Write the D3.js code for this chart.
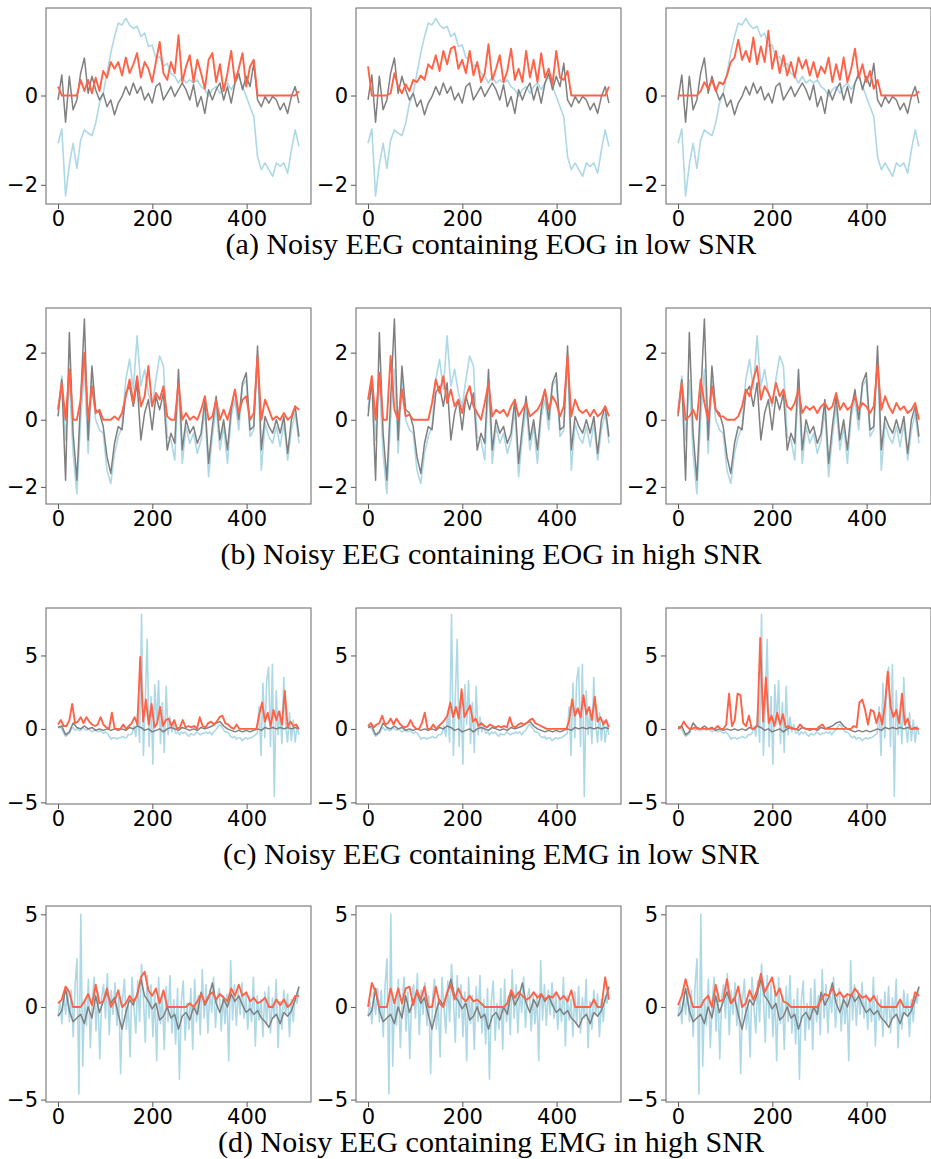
<!DOCTYPE html>
<html>
<head>
<meta charset="utf-8">
<script src="https://cdn.jsdelivr.net/npm/d3@7"></script>
<style>
  body { margin: 0; background: #fff; }
</style>
</head>
<body>
<svg id="chart" width="931" height="1159"></svg>
<script>
'use strict';
// captions under each row of panels
const captions = [
  "(a) Noisy EEG containing EOG in low SNR",
  "(b) Noisy EEG containing EOG in high SNR",
  "(c) Noisy EEG containing EMG in low SNR",
  "(d) Noisy EEG containing EMG in high SNR"
];
const xTicks = [0, 200, 400];
const yTicksA = [-2, 0];
const yTicksB = [-2, 0, 2];
const yTicksC = [-5, 0, 5];
const yTicksD = [-5, 0, 5];

// row (a): noisy input (light blue), clean EEG (gray), three denoised outputs (red)
const blueA = [-1.07,-0.75,-2.25,-1.55,-1.07,-1.63,-1.0,-0.77,-0.84,-0.9,
  -0.62,-0.17,0.05,0.5,0.95,1.32,1.62,1.58,1.73,1.58,
  1.5,1.55,1.32,1.4,1.1,1.13,0.84,0.87,0.65,0.72,
  0.5,0.43,0.28,0.43,0.28,0.35,0.28,0.35,0.2,0.13,
  -0.02,0.13,0.2,0.05,0.2,0.28,0.13,0.28,0.43,0.2,
  -0.02,-0.25,-0.47,-1.37,-1.66,-1.51,-1.66,-1.81,-1.51,-1.59,
  -1.51,-1.74,-1.22,-0.77,-1.14];
const grayA = [-0.1,0.46,-0.6,0.43,-0.32,-0.1,0.5,0.84,0.05,0.43,
  0.13,-0.1,0.05,-0.25,-0.1,-0.43,-0.17,-0.02,0.2,0.01,
  0.28,0.05,0.2,-0.1,0.05,-0.17,0.2,0.28,-0.1,0.05,
  0.2,-0.02,0.13,0.28,0.13,-0.1,0.24,-0.25,-0.02,-0.4,
  0.13,-0.1,0.13,0.28,-0.1,0.2,-0.17,0.28,0.5,0.13,
  0.43,0.2,0.72,-0.1,-0.25,-0.02,-0.17,-0.02,-0.1,-0.32,
  -0.17,-0.4,-0.02,0.2,-0.17];
const orangeA1 = [0.2,0,0,0,0,0,0.35,0.1,0.35,0.05,
  0.4,0.1,0.55,0.4,0.75,0.6,0.75,0.45,0.85,0.5,
  0.7,0.95,0.4,0.75,0.6,0.3,0.75,1.2,0.5,0.35,
  0.75,0.5,1.35,0.3,0.65,0.9,0.3,0.8,0.5,0.15,
  0.8,0.95,0.3,0.7,0.1,0.5,1.0,0.3,0.6,0.95,
  0.2,0.65,0.8,0,0,0,0,0,0,0,
  0,0,0,0,0.1];
const orangeA2 = [0.65,0,0,0,0,0,0.05,0.5,0.2,0.05,
  0.25,0.1,0.35,0.3,0.45,0.35,0.7,0.6,0.9,0.55,
  1.0,0.7,1.05,1.1,0.6,0.8,0.5,1.0,0.45,0.75,
  0.3,0.5,1.15,0.35,0.6,0.9,0.3,0.55,1.05,0.35,
  0.6,0.3,1.0,0.4,0.8,0.3,0.95,0.4,0.6,0.25,
  1.0,0.4,0.35,0.55,0,0,0,0,0,0,
  0,0,0,0,0.2];
const orangeA3 = [0,0,0,0,0,0,0.1,0.3,0.15,0.35,
  0.1,0.3,0.25,0.45,0.75,0.85,1.25,0.8,1.0,0.75,
  1.3,0.7,1.1,0.75,1.45,0.6,1.0,0.5,0.9,0.45,
  0.75,0.4,0.85,0.6,0.8,0.45,0.75,0.4,0.65,0.5,
  0.85,0.3,0.7,0.35,0.85,0.3,0.6,1.05,0.4,0.7,
  0.3,0.55,0.15,0.35,0,0,0,0,0,0,
  0,0,0,0,0.1];

// row (b)
const blueB = [0.3,1.3,-0.6,1.2,-1.0,-2.2,0.0,1.5,-1.0,1.2,
  0.0,-0.3,-0.4,-1.5,-1.9,-1.0,-0.5,-0.2,1.2,1.8,
  0.9,2.5,1.0,1.5,0.8,0.4,1.2,1.9,1.6,-0.5,
  -0.6,-1.2,1.1,-1.3,-0.2,-0.7,-0.4,-1.0,-0.6,0.3,
  -1.7,-0.5,0.4,-0.9,-0.2,-1.3,0.1,0.6,-0.3,1.0,
  1.2,-0.5,-0.3,1.9,-1.5,-0.1,-0.5,-0.7,-0.2,-0.8,
  -0.1,-1.2,-0.3,0.2,-0.7];
const grayB = [0.1,1.2,-1.8,2.6,-0.4,-1.8,0.6,3.0,-0.6,1.6,
  0.3,0.2,-0.2,-1.1,-1.6,-0.7,-0.2,-0.3,0.8,1.0,
  0.4,1.1,-0.6,0.2,0.6,-0.3,0.7,0.3,0.8,-0.9,
  -0.4,-0.7,1.5,-0.9,0.0,-0.4,-0.2,-0.7,-0.4,0.6,
  -1.3,-0.2,0.7,-0.6,0.0,-0.9,0.3,0.9,0.0,1.1,
  1.4,-0.3,-0.2,2.2,-0.9,0.1,-0.2,-0.4,0.0,-0.4,
  0.1,-1.0,0.0,0.4,-0.5];
const orangeB1 = [0.3,1.1,0,1.5,0,0,0.6,2.0,0,1.0,
  0.2,0.3,0,0,0,0.1,0,0.2,0.7,1.2,
  0.5,1.3,0.4,0.7,1.6,0.4,0.8,0.6,1.0,0.1,
  0,0,1.1,0,0.2,0,0.1,0,0.3,0.7,
  0,0.1,0.6,0,0.3,0,0.4,0.9,0.2,0.6,
  0.7,0,0.2,1.9,0,0.6,0.3,0,0.1,0,
  0.2,0,0.1,0.4,0.3];
const orangeB2 = [0.6,1.3,0,1.4,0,0,1.9,0.3,0,0.9,
  0.1,0.15,0,0,0,0,0,0.5,1.2,0.8,
  1.3,0.5,0.9,0.4,0.6,0.2,0.7,1.0,0.4,0.2,
  0,0.5,1.1,0.1,0.3,0.2,0.3,0.1,0.4,0.6,
  0.1,0.3,0.5,0.1,0.2,0.3,0.5,0.9,0.3,0.7,
  0.5,0.1,0.4,1.9,0.1,0.6,0.3,0.2,0.3,0.1,
  0.3,0.1,0.2,0.4,0.1];
const orangeB3 = [0.2,1.1,0,0.1,0.3,0,1.2,0.5,0,1.0,
  0.3,0.1,0.1,0,0,0,0.1,0.4,0.9,0.7,
  1.2,1.6,0.6,1.0,0.8,0.5,1.1,0.7,0.9,0.4,
  0.3,0.5,0.9,0.2,0.4,0.3,0.4,0.2,0.4,0.5,
  0.3,0.4,0.8,0.3,0.5,0.3,0.4,0.7,0.3,0.5,
  0.4,0.2,0.4,1.65,0.3,0.7,0.4,0.2,0.5,0.3,
  0.4,0.2,0.3,0.5,0];

// row (c)
const blueC = [0.1,0.1,0.0,-0.3,-0.5,-0.4,-0.3,0.0,0.1,-0.1,
  0.0,-0.1,-0.1,0.1,0.0,-0.1,0.0,-0.1,-0.2,-0.1,
  -0.1,-0.2,-0.1,-0.2,-0.3,-0.2,-0.3,-0.5,-0.7,-0.6,
  -0.6,-0.7,-0.6,-0.6,-0.5,-0.6,-0.6,-0.4,-0.4,-0.3,
  0.2,-0.5,1.2,-0.9,7.8,-1.8,2.1,6.1,-1.2,2.2,
  -2.4,3.0,0.3,3.3,-1.0,1.8,-1.6,2.9,-0.4,0.8,
  -0.2,0.3,-0.3,-0.2,-0.4,-0.2,-0.3,-0.2,-0.4,-0.5,
  -0.3,-0.4,-0.4,-0.2,-0.3,-0.4,-0.3,-0.3,-0.2,-0.3,
  -0.2,-0.4,-0.2,-0.1,0.1,0.3,0.2,0.0,-0.2,-0.2,
  -0.3,-0.5,-0.6,-0.5,-0.7,-0.6,-0.6,-0.8,-0.7,-0.6,
  -0.7,-0.6,-0.6,-0.5,-0.4,-0.3,1.5,-1.8,3.1,-0.6,
  3.3,4.2,-1.2,4.4,-4.6,2.6,-0.4,1.2,-1.0,3.5,
  0.2,-0.9,1.1,-0.8,0.6,-0.9,0.2,-0.4];
const grayC = [0.1,0.2,-0.4,-0.2,0.4,0.1,0.0,0.2,0.0,0.1,
  -0.1,0.0,-0.1,0.0,-0.1,0.0,-0.1,0.0,-0.1,0.1,
  0.0,0.2,0.1,-0.1,0.0,-0.2,-0.1,0.0,-0.2,0.0,
  0.1,0.0,-0.1,0.1,0.0,-0.1,0.0,-0.1,0.1,0.0,
  0.1,0.2,0.4,0.5,0.2,0.0,-0.1,-0.2,-0.1,-0.2,
  -0.1,-0.2,-0.1,0.0,-0.1,0.1,0.0,0.1,0.0,0.1,
  0.0,0.1,0.0,0.1,0.0];
const orangeC1 = [0.3,0.6,0.2,0.2,0.6,1.7,0.4,0.5,0.8,0.4,
  0.8,0.5,0.3,0.2,0.3,0.8,0.3,0.1,0.0,1.1,
  0.0,0.0,0.0,0.3,0.0,0.2,0.4,0.8,0.3,4.9,
  0.5,2.0,0.3,1.7,0.1,0.4,1.5,0.2,0.6,0.7,
  0.2,0.6,0.0,0.1,0.6,0.1,0.2,0.1,0.2,0.0,
  0.8,0.2,0.1,0.4,0.5,0.3,0.5,0.8,0.9,0.4,
  0.3,0.1,0.0,0.3,0.0,0,0,0,0,0,
  0,1.0,1.8,0.5,1.1,0.2,1.3,0.6,1.2,0.3,
  2.6,0.1,0.5,0.2,0.3,0.0];
const orangeC2 = [0.2,0.4,0.1,0.3,0.4,0.9,0.3,0.4,0.7,0.3,
  0.7,0.4,0.2,0.1,0.2,0.6,0.2,0.0,0.0,0.4,
  1.1,0.0,0.0,0.3,0.0,0.2,0.4,0.6,0.9,1.8,
  0.8,1.5,0.7,2.7,0.8,1.2,1.6,0.5,0.7,0.2,
  0.4,0.2,0.1,0.3,0.2,0.1,0.2,0.1,0.2,0.1,
  0.8,0.2,0.1,0.3,0.4,0.3,0.4,0.6,0.7,0.4,
  0.3,0.2,0.1,0.0,0,0,0,0,0,0,
  0,0.6,2.0,0.9,1.4,0.8,2.3,1.0,1.5,0.6,
  2.2,0.5,0.8,0.3,0.6,0.1];
const orangeC3 = [0.0,0.1,0.5,0.2,0.0,0.0,0.1,0.0,0.0,0.0,
  0.0,0.0,0.0,0.0,0.2,0.0,0.0,0.3,2.4,0.2,
  0.6,2.4,2.3,0.4,0.2,0.9,0.0,0.0,0.3,6.2,
  0.5,3.5,0.4,0.9,0.2,1.1,0.3,1.0,0.1,0.2,
  0.0,0.0,0.0,0.3,0.1,0.0,0.0,0.0,0.0,0.0,
  0.2,0.3,0.0,0.0,0.0,0.0,0.0,0.0,0.0,0.0,
  0.0,0.0,0.2,0.1,1.8,2.0,1.3,0.3,1.3,1.2,
  0.4,1.1,0.3,1.6,3.9,1.5,0.8,1.3,0.4,2.4,
  0.3,0.7,0.0,0.0,0.0,0.0];

// row (d)
const blueD = [-0.5,0.3,-0.9,0.8,-0.4,1.0,-0.8,0.9,-1.6,1.2,
  2.6,-4.7,5.0,-3.2,0.4,-1.0,1.5,-2.2,0.2,1.6,
  -1.3,0.8,-2.8,0.5,1.2,-0.6,1.8,-1.5,0.9,-0.4,
  1.3,-1.0,0.6,-3.6,0.4,1.5,-1.2,0.3,-2.7,1.6,
  0.0,-1.4,1.4,-0.8,2.3,0.5,-1.9,1.7,-0.6,1.2,
  -1.6,0.8,-2.9,1.6,-0.9,0.6,-2.3,1.1,-0.8,1.7,
  -1.4,0.4,-2.0,1.0,-3.9,0.3,1.4,-1.8,0.2,-1.2,
  1.0,-2.3,1.5,-0.8,0.6,-1.5,2.0,-0.6,1.2,-1.4,
  0.9,-0.3,1.6,-1.1,0.5,1.0,-1.3,0.6,-0.9,0.7,
  -2.9,2.5,-0.7,1.2,-1.0,0.9,-0.4,1.3,-0.6,0.7,
  -1.2,0.5,-0.8,1.6,-2.1,0.6,-0.7,0.4,-1.6,0.8,
  -0.9,1.1,-1.4,0.5,-0.6,1.5,-2.2,0.3,-1.2,0.9,
  -0.4,0.7,-1.6,0.4,-0.8,0.6,0.2,1.1];
const grayD = [-0.5,-0.2,1.0,-0.2,-0.8,-0.6,-0.4,-0.9,0.0,-0.6,
  0.6,-0.3,0.3,0.8,0.2,0.5,-0.4,-1.2,-0.3,0.4,
  0.1,0.7,1.5,0.6,0.3,-0.1,0.2,-0.7,-0.5,0.0,
  -0.6,-0.4,-1.2,-0.5,-0.3,-0.7,0.0,-0.4,0.8,0.1,
  0.5,1.3,0.2,-0.3,0.4,0.0,0.7,0.3,0.6,0.1,
  -0.3,-0.1,-0.4,-0.2,-0.6,-0.8,-1.1,-0.6,-0.4,-0.9,
  -0.3,-0.5,-0.2,0.4,1.1];
const orangeD1 = [0.2,0.4,1.1,0.8,0,0,0,0.3,0.7,0.1,
  1.2,0.2,0.3,1.0,0,0.3,0.9,0,0.2,0.6,
  0.3,0.6,1.6,1.9,0.9,0.6,1.0,0.2,0.9,0,
  0,0,0,0,0,0.2,0,0.3,0.7,0.2,
  0.6,0.8,0.4,0.7,0.5,0.3,1.0,0.6,1.2,0.6,
  0.8,0.3,0.5,0.2,0.3,0.5,0,0,0.4,0.1,
  0.4,0,0.2,0.6,0.6];
const orangeD2 = [0,1.3,0.8,0,0,0,1.0,0.2,1.0,0.2,
  1.0,1.1,0.1,0.9,0.4,1.1,0,0,1.1,0.2,
  0,0.8,1.2,0.4,1.0,0.5,0.3,0.6,0.3,0.4,
  0.2,0,0,0,0,0,0,0.2,0.9,0.5,
  0.8,0.6,0.4,0.5,0.8,0.5,0.7,0.4,0.6,0.5,
  0.8,0.4,0.6,0.3,0.9,0,0,0,0,0,
  0.4,0,0,1.6,0.4];
const orangeD3 = [0.1,0.6,1.5,0.7,0,0,0,0.4,0.6,0,
  1.2,0.3,0.4,1.5,0.2,0.4,1.1,0,0.2,0.9,
  0.4,0.9,1.8,0.8,1.2,1.6,0.6,1.0,0.3,0.2,
  0,0,0,0,0,0,0,0,0.4,0.7,
  0.6,1.0,0.6,0.8,0.5,0.7,0.6,1.0,0.7,0.5,
  0.6,0.3,0.6,0.2,0,0,0,0,0,0.4,
  0,0,0,0.8,0.6];

const rows = [
  { blue: blueA, gray: grayA, orange: [orangeA1, orangeA2, orangeA3], yDomain: [-2.43, 1.96], yTicks: yTicksA },
  { blue: blueB, gray: grayB, orange: [orangeB1, orangeB2, orangeB3], yDomain: [-2.51, 3.33], yTicks: yTicksB },
  { blue: blueC, gray: grayC, orange: [orangeC1, orangeC2, orangeC3], yDomain: [-5.11, 8.23], yTicks: yTicksC },
  { blue: blueD, gray: grayD, orange: [orangeD1, orangeD2, orangeD3], yDomain: [-5.13, 5.45], yTicks: yTicksD }
];

// layout
const panelLefts = [46, 356, 666];
const rowTops = [8, 308, 608, 906];
const captionY = [254, 564, 864, 1152];
const panelW = 265, panelH = 196;
const lastSample = 511;

const svg = d3.select("#chart");
const x = d3.scaleLinear().domain([-25.55, 536.55]).range([0, panelW]);

rows.forEach((row, r) => {
  const y = d3.scaleLinear().domain(row.yDomain).range([panelH, 0]);

  panelLefts.forEach((left, c) => {
    const g = svg.append("g").attr("transform", `translate(${left},${rowTops[r]})`);
    const clipId = `clip-${r}-${c}`;
    g.append("clipPath").attr("id", clipId)
      .append("rect").attr("width", panelW).attr("height", panelH);
    const plot = g.append("g").attr("clip-path", `url(#${clipId})`);

    const series = [
      { vals: row.blue, color: "#add8e6", w: 1.6 },
      { vals: row.gray, color: "#7f7f7f", w: 1.5 },
      { vals: row.orange[c], color: "#ff6347", w: 1.9 }
    ];
    series.forEach(s => {
      const step = lastSample / (s.vals.length - 1);
      const line = d3.line()
        .x((d, i) => x(i * step))
        .y(d => y(d));
      plot.append("path")
        .datum(s.vals)
        .attr("d", line)
        .attr("fill", "none")
        .attr("stroke", s.color)
        .attr("stroke-width", s.w)
        .attr("stroke-linejoin", "round");
    });

    const xa = g.append("g").attr("transform", `translate(0,${panelH})`)
      .call(d3.axisBottom(x).tickValues(xTicks).tickSize(5).tickPadding(2).tickFormat(d3.format("d")));
    const ya = g.append("g")
      .call(d3.axisLeft(y).tickValues(row.yTicks).tickSize(5).tickPadding(3).tickFormat(d3.format("d")));
    [xa, ya].forEach(a => {
      a.attr("font-size", null).attr("font-family", null);
      a.select(".domain").remove();
      a.selectAll(".tick line").attr("stroke", "#555");
      a.selectAll(".tick text")
        .style("font-family", "'DejaVu Sans', sans-serif")
        .style("font-size", "21px")
        .attr("fill", "#000");
    });

    // frame
    g.append("rect")
      .attr("width", panelW).attr("height", panelH)
      .attr("fill", "none").attr("stroke", "#666").attr("stroke-width", 1);
  });

  svg.append("text")
    .attr("x", 491)
    .attr("y", captionY[r])
    .attr("text-anchor", "middle")
    .style("font-family", "'Liberation Serif', 'Times New Roman', serif")
    .style("font-size", "30px")
    .attr("fill", "#000")
    .text(captions[r]);
});
</script>
</body>
</html>
